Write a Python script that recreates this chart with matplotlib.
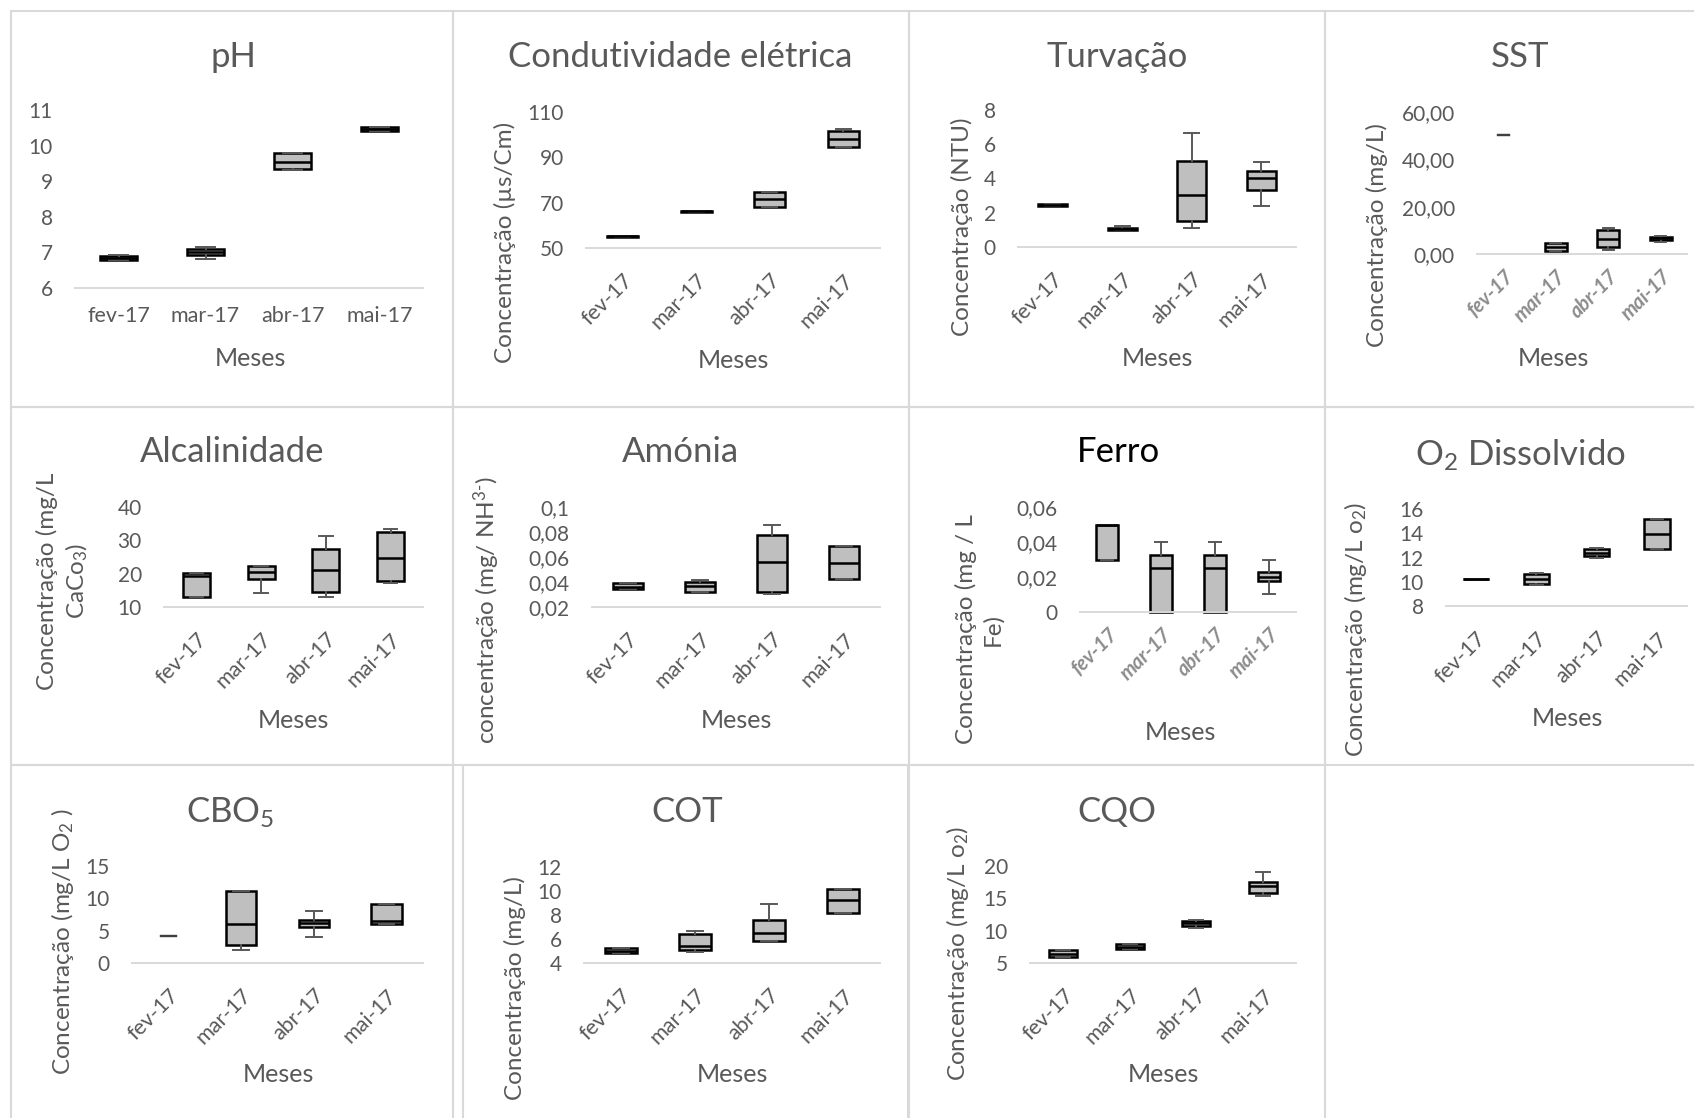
import matplotlib.pyplot as plt
from matplotlib.patches import Rectangle

plt.rcParams['font.family'] = ['Lato', 'DejaVu Sans']
plt.rcParams['mathtext.fontset'] = 'custom'
plt.rcParams['mathtext.rm'] = 'Lato'
plt.rcParams['mathtext.it'] = 'Lato:italic'
plt.rcParams['mathtext.bf'] = 'Lato:bold'

W, H = 1694, 1118
GREY = '#595959'

months = ["fev-17", "mar-17", "abr-17", "mai-17"]

# per month: [whisker low, q1, median, q3, whisker high]
ph = [[6.78, 6.80, 6.85, 6.90, 6.92], [6.81, 6.92, 7.00, 7.10, 7.15],
      [9.32, 9.35, 9.53, 9.78, 9.80], [10.41, 10.41, 10.47, 10.52, 10.52]]
condutividade = [[55.0, 55.0, 55.1, 55.2, 55.2], [65.8, 65.8, 66.2, 66.5, 66.5],
                 [68.0, 68.0, 71.7, 74.6, 74.6], [94.5, 94.5, 98.3, 101.8, 102.3]]
turvacao = [[2.37, 2.37, 2.43, 2.50, 2.50], [0.97, 0.97, 1.03, 1.09, 1.20],
            [1.09, 1.53, 3.03, 5.05, 6.64], [2.37, 3.32, 4.02, 4.41, 4.99]]
sst = [[50.1, 50.1, 50.1, 50.1, 50.1], [1.4, 1.4, 3.1, 4.8, 4.8],
       [1.8, 2.9, 6.5, 10.1, 11.1], [5.2, 5.8, 6.6, 7.3, 7.7]]
alcalinidade = [[12.9, 12.9, 19.2, 20.1, 20.1], [14.1, 18.5, 20.6, 22.2, 22.2],
                [13.0, 14.5, 21.0, 27.4, 31.3], [17.2, 17.7, 24.7, 32.5, 33.3]]
amonia = [[0.0341, 0.0341, 0.0360, 0.0389, 0.0389], [0.0320, 0.0320, 0.0365, 0.0400, 0.0419],
          [0.0304, 0.0317, 0.0560, 0.0773, 0.0853], [0.0421, 0.0421, 0.0552, 0.0688, 0.0688]]
ferro = [[0.030, 0.030, 0.050, 0.050, 0.050], [0.0, 0.0, 0.0251, 0.0328, 0.040],
         [0.0, 0.0, 0.0251, 0.0328, 0.040], [0.0103, 0.0175, 0.0202, 0.0229, 0.030]]
oxigenio = [[10.19, 10.19, 10.19, 10.19, 10.19], [9.75, 9.83, 10.2, 10.66, 10.75],
            [12.0, 12.13, 12.4, 12.7, 12.8], [12.7, 12.7, 13.96, 15.15, 15.15]]
cbo5 = [[4.1, 4.1, 4.1, 4.1, 4.1], [1.95, 2.8, 6.1, 11.2, 11.2],
        [4.06, 5.5, 6.2, 6.6, 8.1], [6.1, 6.1, 6.5, 9.1, 9.1]]
cot = [[4.83, 4.83, 5.0, 5.24, 5.24], [4.9, 5.05, 5.38, 6.4, 6.68],
       [5.8, 5.8, 6.48, 7.6, 8.9], [8.16, 8.16, 9.24, 10.2, 10.2]]
cqo = [[5.93, 5.93, 6.45, 6.97, 6.97], [7.22, 7.22, 7.55, 7.9, 7.9],
       [10.38, 10.74, 11.15, 11.5, 11.67], [15.35, 15.86, 16.95, 17.5, 19.1]]

ph_ticks = [6, 7, 8, 9, 10, 11]
cond_ticks = [50, 70, 90, 110]
turv_ticks = [0, 2, 4, 6, 8]
sst_ticks = [0, 20, 40, 60]
sst_labels = ["0,00", "20,00", "40,00", "60,00"]
alc_ticks = [10, 20, 30, 40]
amonia_ticks = [0.02, 0.04, 0.06, 0.08, 0.1]
amonia_labels = ["0,02", "0,04", "0,06", "0,08", "0,1"]
ferro_ticks = [0, 0.02, 0.04, 0.06]
ferro_labels = ["0", "0,02", "0,04", "0,06"]
o2_ticks = [8, 10, 12, 14, 16]
cbo_ticks = [0, 5, 10, 15]
cot_ticks = [4, 6, 8, 10, 12]
cqo_ticks = [5, 10, 15, 20]

# layout in pixels: axes rect (x0, y0, x1, y1), title pos, ylabel pos, xlabel pos
panels = [
    dict(data=ph, ticks=ph_ticks, labels=None, title="pH", rect=(75, 110, 423, 288),
         tpos=(233, 57), ylabel=None, ypos=None, xpos=(250, 359), rot=0),
    dict(data=condutividade, ticks=cond_ticks, labels=None, title="Condutividade elétrica",
         rect=(586, 112, 880, 248), tpos=(680, 57), ylabel="Concentração (µs/Cm)",
         ypos=(505, 242), xpos=(733, 360), rot=45),
    dict(data=turvacao, ticks=turv_ticks, labels=None, title="Turvação",
         rect=(1018, 110, 1296, 247), tpos=(1117, 57), ylabel="Concentração (NTU)",
         ypos=(962, 227), xpos=(1157, 358), rot=45),
    dict(data=sst, ticks=sst_ticks, labels=sst_labels, title="SST",
         rect=(1477, 112, 1687, 254), tpos=(1520, 57), ylabel="Concentração (mg/L)",
         ypos=(1377, 235), xpos=(1553, 358), rot=45, italic=True, caponly=[0]),
    dict(data=alcalinidade, ticks=alc_ticks, labels=None, title="Alcalinidade",
         rect=(164, 507, 423, 607), tpos=(232, 452),
         ylabel="Concentração (mg/L\nCaCo$_3$)", ypos=(63, 581), xpos=(293, 720), rot=45),
    dict(data=amonia, ticks=amonia_ticks, labels=amonia_labels, title="Amónia",
         rect=(592, 507, 880, 607), tpos=(680, 452),
         ylabel="concentração (mg/ NH$^{3\u2010}$)", ypos=(487, 610), xpos=(736, 720), rot=45),
    dict(data=ferro, ticks=ferro_ticks, labels=ferro_labels, title="Ferro",
         rect=(1080, 507, 1296, 612), tpos=(1118, 452),
         ylabel="Concentração (mg / L\nFe)", ypos=(979, 629), xpos=(1180, 732), rot=45,
         italic=True, tcolor='black'),
    dict(data=oxigenio, ticks=o2_ticks, labels=None, title="O$_2$ Dissolvido",
         rect=(1446, 509, 1687, 606), tpos=(1520, 455),
         ylabel="Concentração (mg/L o$_2$)", ypos=(1355, 629), xpos=(1567, 718), rot=45),
    dict(data=cbo5, ticks=cbo_ticks, labels=None, title="CBO$_5$",
         rect=(132, 866, 423, 963), tpos=(230, 813),
         ylabel="Concentração (mg/L O$_2$ )", ypos=(63, 942), xpos=(278, 1075), rot=45,
         caponly=[0]),
    dict(data=cot, ticks=cot_ticks, labels=None, title="COT",
         rect=(584, 867, 880, 963), tpos=(687, 812),
         ylabel="Concentração (mg/L)", ypos=(515, 988), xpos=(732, 1075), rot=45),
    dict(data=cqo, ticks=cqo_ticks, labels=None, title="CQO",
         rect=(1030, 866, 1296, 963), tpos=(1117, 812),
         ylabel="Concentração (mg/L o$_2$)", ypos=(957, 953), xpos=(1163, 1075), rot=45),
]

# panel borders (x0, y0, x1, y1) in pixels
borders = [(11, 11, 453, 407), (453, 11, 909, 407), (909, 11, 1325, 407), (1325, 11, 1700, 407),
           (11, 407, 453, 765), (453, 407, 909, 765), (909, 407, 1325, 765), (1325, 407, 1700, 765),
           (11, 765, 453, 1125), (463, 765, 908, 1125), (909, 765, 1325, 1125)]

fig = plt.figure(figsize=(W / 100, H / 100), dpi=100)

for b in borders:
    x0, y0, x1, y1 = b
    fig.add_artist(Rectangle((x0 / W, 1 - y1 / H), (x1 - x0) / W, (y1 - y0) / H,
                             transform=fig.transFigure, fill=False,
                             edgecolor='#d9d9d9', linewidth=1.5))


def to_stats(rows):
    return [dict(whislo=r[0], q1=r[1], med=r[2], q3=r[3], whishi=r[4], fliers=[]) for r in rows]


for p in panels:
    x0, y0, x1, y1 = p['rect']
    ax = fig.add_axes([x0 / W, 1 - y1 / H, (x1 - x0) / W, (y1 - y0) / H])
    ax.patch.set_alpha(0)
    caponly = p.get('caponly', [])
    idx = [i for i in range(len(months)) if i not in caponly]
    stats = to_stats(p['data'])
    ax.bxp([stats[i] for i in idx], positions=idx, widths=0.42, showfliers=False,
           patch_artist=True, manage_ticks=False,
           boxprops=dict(facecolor='#bfbfbf', edgecolor='black', linewidth=1.8),
           medianprops=dict(color='black', linewidth=1.8),
           whiskerprops=dict(color=GREY, linewidth=1.4),
           capprops=dict(color=GREY, linewidth=1.4))
    if caponly:
        ax.bxp([stats[i] for i in caponly], positions=caponly, widths=0.42, showfliers=False,
               showbox=False, manage_ticks=False,
               medianprops=dict(visible=False),
               whiskerprops=dict(color='#404040', linewidth=1.6),
               capprops=dict(color='#404040', linewidth=1.6))
    for art in ax.get_children():
        art.set_clip_on(False)

    ax.set_xlim(-0.5, 3.5)
    ax.set_ylim(p['ticks'][0], p['ticks'][-1])
    ax.set_yticks(p['ticks'])
    if p['labels']:
        ax.set_yticklabels(p['labels'])
    for s in ['top', 'left', 'right']:
        ax.spines[s].set_visible(False)
    ax.spines['bottom'].set_color('#d9d9d9')
    ax.spines['bottom'].set_linewidth(1.4)
    ax.tick_params(axis='y', length=0, pad=16, labelsize=15, labelcolor=GREY)

    ax.set_xticks(range(len(months)))
    if p['rot'] == 0:
        ax.set_xticklabels(months)
        ax.tick_params(axis='x', length=0, pad=13, labelsize=15.5, labelcolor=GREY)
    elif p.get('italic'):
        ax.set_xticklabels(months, rotation=45, ha='right', rotation_mode='anchor',
                           style='italic', fontweight='bold')
        ax.tick_params(axis='x', length=0, pad=9, labelsize=14.5, labelcolor='#8c8c8c')
    else:
        ax.set_xticklabels(months, rotation=45, ha='right', rotation_mode='anchor')
        ax.tick_params(axis='x', length=0, pad=16, labelsize=15.5, labelcolor=GREY)

    fig.text(p['tpos'][0] / W, 1 - p['tpos'][1] / H, p['title'], ha='center', va='center',
             fontsize=25, color=p.get('tcolor', GREY))
    fig.text(p['xpos'][0] / W, 1 - p['xpos'][1] / H, "Meses", ha='center', va='center',
             fontsize=18, color=GREY)
    if p['ylabel']:
        fig.text(p['ypos'][0] / W, 1 - p['ypos'][1] / H, p['ylabel'], ha='center',
                 va='center', rotation=90, multialignment='center', linespacing=1.3,
                 fontsize=17.5, color=GREY)

fig.savefig("out.png", dpi=100)
